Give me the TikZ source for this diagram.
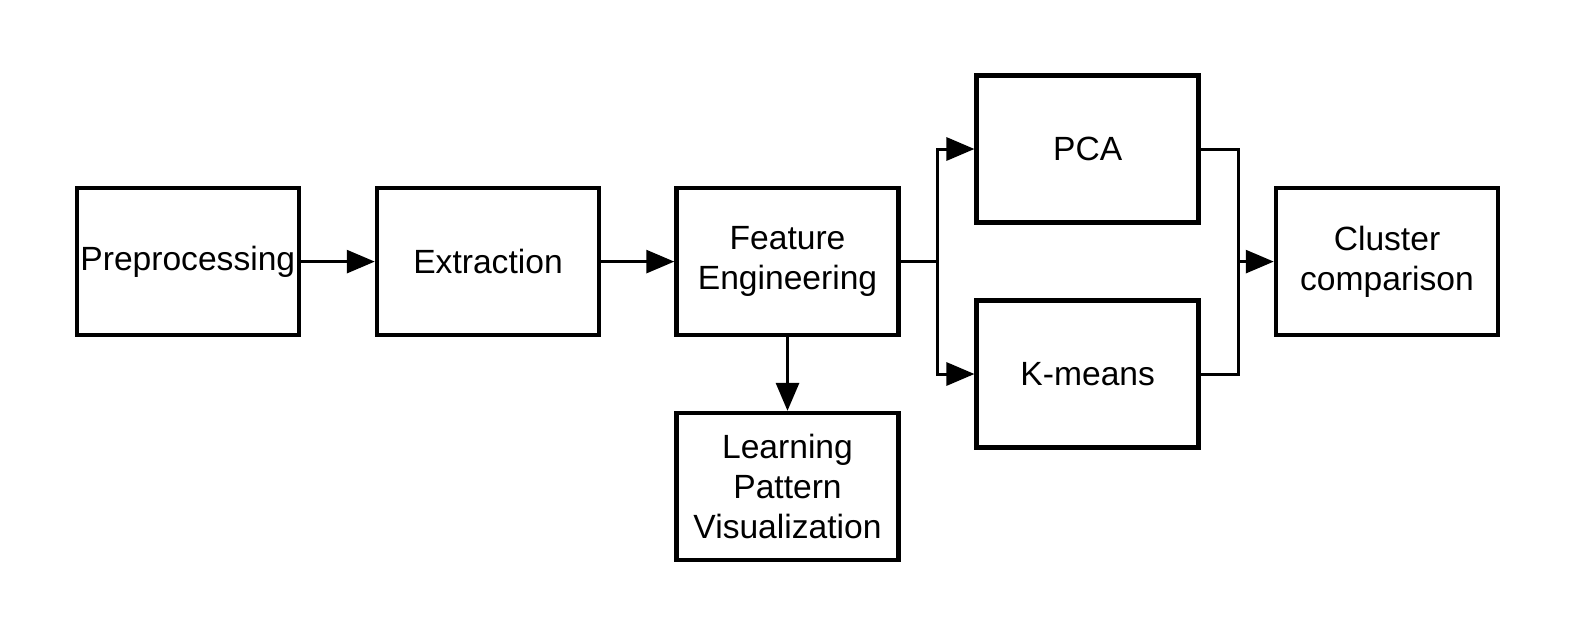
\documentclass[tikz,border=0pt]{standalone}
\usepackage{fontspec}
\setmainfont{Liberation Sans}
\usetikzlibrary{arrows.meta}
\begin{document}
\begin{tikzpicture}[x=1pt,y=-1pt,
  box/.style={draw=black,line width=4.5pt,minimum width=222pt,minimum height=147pt,inner sep=0pt,align=center,font=\fontsize{33.6}{40}\selectfont},
  conn/.style={draw=black,line width=3pt},
  arr/.style={conn,-{Triangle[length=28pt,width=23pt]}}]
\useasboundingbox (0,0) rectangle (1575,638);
\node[box] (pre) at (187.8,261.6) {Preprocessing};
\node[box] (ext) at (488,261.6) {Extraction};
\node[box] (fe) at (787.5,261.6) {Feature\\Engineering};
\node[box] (lp) at (787.5,486.6) {Learning\\Pattern\\Visualization};
\node[box] (pca) at (1087.7,149) {PCA};
\node[box] (km) at (1087.7,374) {K-means};
\node[box] (cl) at (1387,261.6) {Cluster\\comparison};
\coordinate (j1) at (937,261.6);
\coordinate (j2) at (1238,261.6);
\draw[arr] (pre.east) -- (ext.west);
\draw[arr] (ext.east) -- (fe.west);
\draw[arr] (fe.south) -- (lp.north);
\draw[conn] (fe.east) -- (j1);
\draw[arr] (j1) |- (pca.west);
\draw[arr] (j1) |- (km.west);
\draw[conn] (pca.east) -| (j2);
\draw[conn] (km.east) -| (j2);
\draw[arr] (j2) -- (cl.west);
\end{tikzpicture}
\end{document}
